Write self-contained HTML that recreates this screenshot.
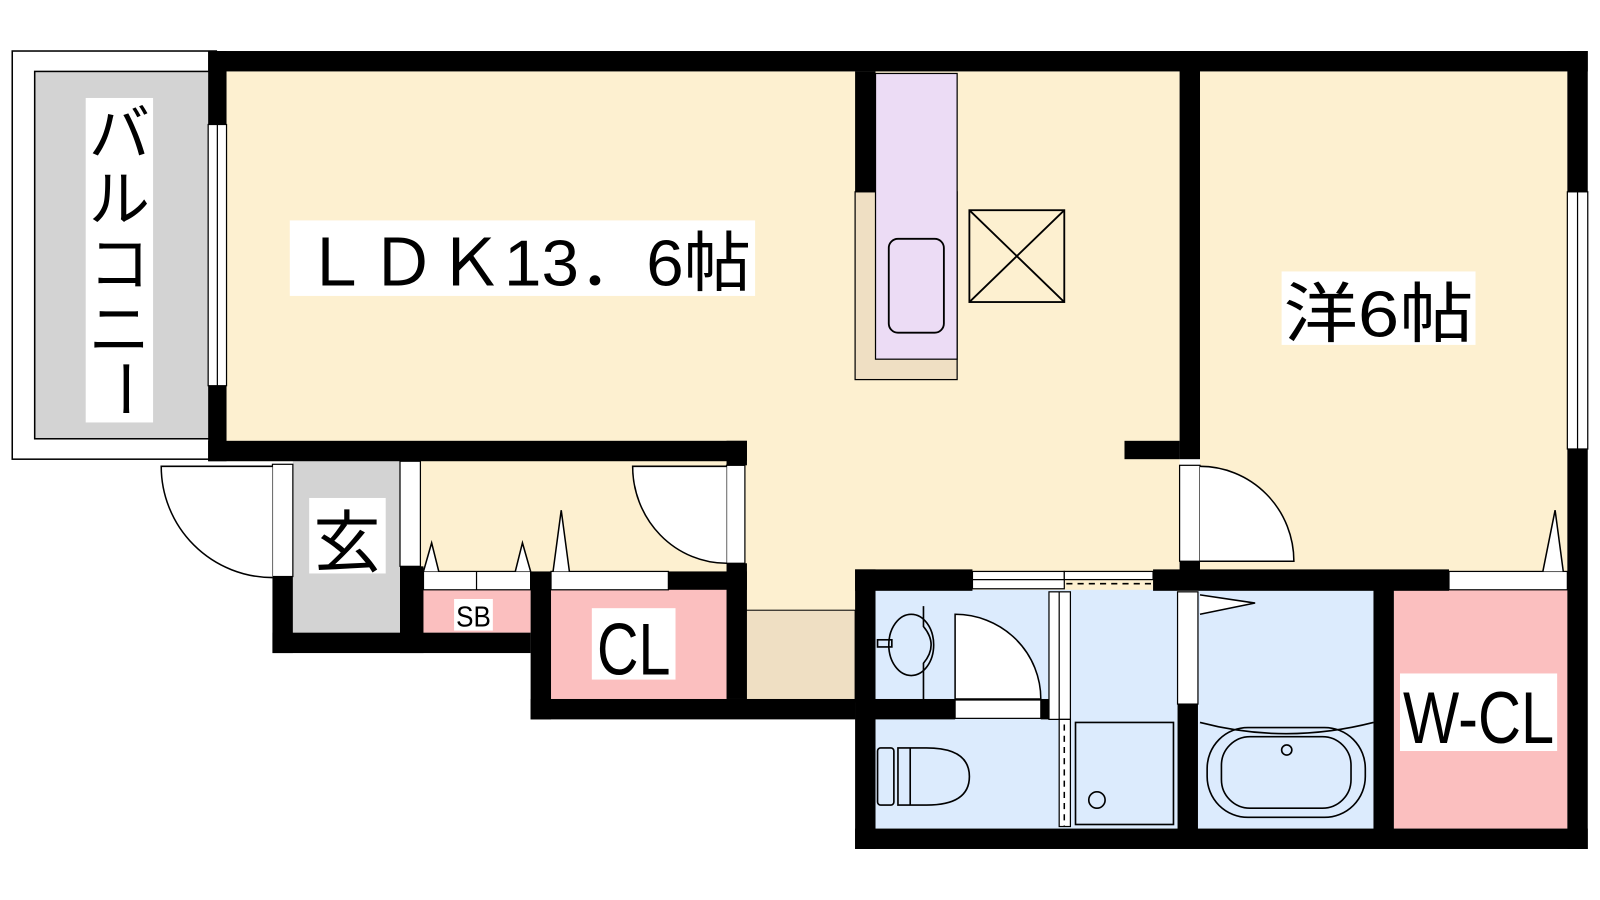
<!DOCTYPE html>
<html><head><meta charset="utf-8"><style>
html,body{margin:0;padding:0;background:#fff;width:1600px;height:900px;overflow:hidden}
svg{display:block}
text{font-family:"Liberation Sans","Noto Sans CJK JP",sans-serif;fill:#000}
</style></head><body>
<svg width="1600" height="900" viewBox="0 0 1568 882" preserveAspectRatio="none" xmlns="http://www.w3.org/2000/svg">
<!-- balcony -->
<rect x="12" y="50" width="200" height="400" fill="#fff" stroke="#000" stroke-width="1.5"/>
<rect x="34" y="70" width="172" height="360" fill="#d3d3d3" stroke="#000" stroke-width="1.5"/>
<!-- floors -->
<rect x="222" y="70" width="934" height="382" fill="#fdf0d0"/>
<rect x="412" y="450" width="744" height="112" fill="#fdf0d0"/>
<rect x="730" y="430" width="426" height="170" fill="#fdf0d0"/>
<rect x="730" y="598" width="108" height="90" fill="#efdfc3" stroke="#000" stroke-width="1"/>
<rect x="1176" y="70" width="360" height="490" fill="#fdf0d0"/>
<rect x="287" y="450" width="105" height="170" fill="#d3d3d3"/>
<rect x="415" y="576" width="105" height="44" fill="#fbbfbf"/>
<rect x="540" y="576" width="172" height="109" fill="#fbbfbf"/>
<rect x="858" y="578" width="296" height="234" fill="#dcebfd"/>
<rect x="1174" y="578" width="172" height="234" fill="#dcebfd"/>
<rect x="1366" y="578" width="170" height="234" fill="#fbbfbf"/>
<!-- kitchen -->
<rect x="838" y="188" width="100" height="184" fill="#efdfc3" stroke="#000" stroke-width="1.2"/>
<rect x="858" y="72" width="80" height="280" fill="#ecdcf5" stroke="#000" stroke-width="1.2"/>
<rect x="871" y="234" width="54" height="92" rx="9" fill="none" stroke="#000" stroke-width="1.8"/>
<rect x="950" y="206" width="93" height="90" fill="none" stroke="#000" stroke-width="1.8"/>
<path d="M950 206L1043 296M1043 206L950 296" stroke="#000" stroke-width="1.8"/>
<!-- walls -->
<g fill="#000">
<rect x="204" y="50" width="1352" height="20"/>
<rect x="204" y="50" width="18" height="402"/>
<rect x="1536" y="50" width="20" height="782"/>
<rect x="1156" y="50" width="20" height="400"/>
<rect x="1102" y="432" width="54" height="18"/>
<rect x="204" y="432" width="528" height="20"/>
<rect x="712" y="432" width="20" height="24"/>
<rect x="838" y="70" width="20" height="118"/>
<rect x="267" y="565" width="20" height="75"/>
<rect x="267" y="620" width="253" height="20"/>
<rect x="392" y="555" width="23" height="85"/>
<rect x="520" y="560" width="20" height="145"/>
<rect x="520" y="685" width="318" height="20"/>
<rect x="655" y="560" width="77" height="18"/>
<rect x="712" y="552" width="20" height="133"/>
<rect x="838" y="558" width="20" height="274"/>
<rect x="838" y="558" width="115" height="21"/>
<rect x="1130" y="558" width="290" height="21"/>
<rect x="838" y="812" width="718" height="20"/>
<rect x="838" y="685" width="98" height="20"/>
<rect x="1020" y="685" width="8" height="20"/>
<rect x="1154" y="690" width="20" height="130"/>
<rect x="1346" y="578" width="20" height="240"/>
<rect x="1156" y="550" width="20" height="10"/>
</g>
<!-- windows -->
<g fill="#fff" stroke="#000" stroke-width="1.2">
<rect x="204" y="122" width="18" height="256"/>
<line x1="213" y1="122" x2="213" y2="378"/>
<rect x="1536" y="188" width="20" height="252"/>
<line x1="1546" y1="188" x2="1546" y2="440"/>
<rect x="267" y="455" width="20" height="110"/>
<rect x="392" y="452" width="20" height="103"/>
<rect x="712" y="456" width="18" height="96"/>
<rect x="1156" y="456" width="20" height="94"/>
<rect x="953" y="560" width="90" height="17"/>
<line x1="953" y1="568" x2="1043" y2="568"/>
<rect x="1043" y="560" width="87" height="8"/>
<rect x="936" y="686" width="84" height="18"/>
<rect x="1028" y="580" width="21" height="125"/>
<line x1="1038" y1="580" x2="1038" y2="705"/>
<rect x="1038" y="705" width="11" height="105"/>
<rect x="1154" y="580" width="20" height="110"/>
<rect x="415" y="560" width="105" height="18"/>
<line x1="467" y1="560" x2="467" y2="578"/>
<rect x="540" y="560" width="115" height="18"/>
<rect x="1420" y="560" width="116" height="18"/>
</g>
<line x1="1045" y1="572" x2="1130" y2="572" stroke="#000" stroke-width="1.5" stroke-dasharray="6,5"/>
<line x1="1043" y1="710" x2="1043" y2="810" stroke="#000" stroke-width="1.5" stroke-dasharray="6,5"/>
<!-- doors -->
<g fill="#fff" stroke="#000" stroke-width="1.5">
<path d="M267 457H158A109 109 0 0 0 267 566"/>
<path d="M712 457H620A92 95 0 0 0 712 552"/>
<path d="M1176 550H1268A92 93 0 0 0 1176 457"/>
<path d="M936 685V602A84 83 0 0 1 1020 685Z"/>
<path d="M1176 583L1230 591L1176 602"/>
<path d="M415 560L423 532L430 560M505 560L512 532L520 560M542 560L550 500L558 560M1512 560L1524 500L1532 560"/>
</g>
<!-- fixtures -->
<g fill="none" stroke="#000" stroke-width="1.6">
<ellipse cx="893" cy="632" rx="22" ry="30"/>
<path d="M905 594V614Q920 632 905 650V685"/>
<rect x="860" y="627" width="14" height="7"/>
<rect x="860" y="733" width="16" height="56" rx="3"/>
<path d="M880 733H908Q950 733 950 761Q950 789 908 789H880Z"/>
<path d="M892 733V789"/>
<rect x="1054" y="708" width="96" height="100"/>
<circle cx="1075" cy="784" r="8"/>
<path d="M1176 708Q1260 730 1346 708"/>
<rect x="1183" y="713" width="155" height="88" rx="40"/>
<rect x="1197" y="722" width="127" height="70" rx="28"/>
<circle cx="1261" cy="735" r="5"/>
</g>
<!-- labels -->
<g fill="#fff">
<rect x="84" y="96" width="66" height="318"/>
<rect x="284" y="216" width="456" height="74"/>
<rect x="1256" y="266" width="190" height="72"/>
<rect x="303" y="488" width="75" height="74"/>
<rect x="445" y="587" width="38" height="31"/>
<rect x="580" y="596" width="82" height="70"/>
<rect x="1372" y="660" width="154" height="76"/>
</g>
<g font-size="60" text-anchor="middle">
<text x="117" y="152">バ</text>
<text x="117" y="216">ル</text>
<text x="117" y="280">コ</text>
<text x="117" y="344">ニ</text>
<text x="117" y="381" transform="rotate(90 117 381)" dominant-baseline="middle">ー</text>
</g>
<text x="296" y="280" font-size="64" textLength="440" lengthAdjust="spacingAndGlyphs">ＬＤＫ13．6帖</text>
<text x="1258" y="330" font-size="64" textLength="186" lengthAdjust="spacingAndGlyphs">洋6帖</text>
<text x="340" y="555" font-size="66" text-anchor="middle">玄</text>
<text x="464" y="614" font-size="28" text-anchor="middle" textLength="34" lengthAdjust="spacingAndGlyphs">SB</text>
<text x="621" y="661" font-size="72" text-anchor="middle" textLength="72" lengthAdjust="spacingAndGlyphs">CL</text>
<text x="1449" y="728" font-size="72" text-anchor="middle" textLength="148" lengthAdjust="spacingAndGlyphs">W-CL</text>
</svg>
</body></html>
